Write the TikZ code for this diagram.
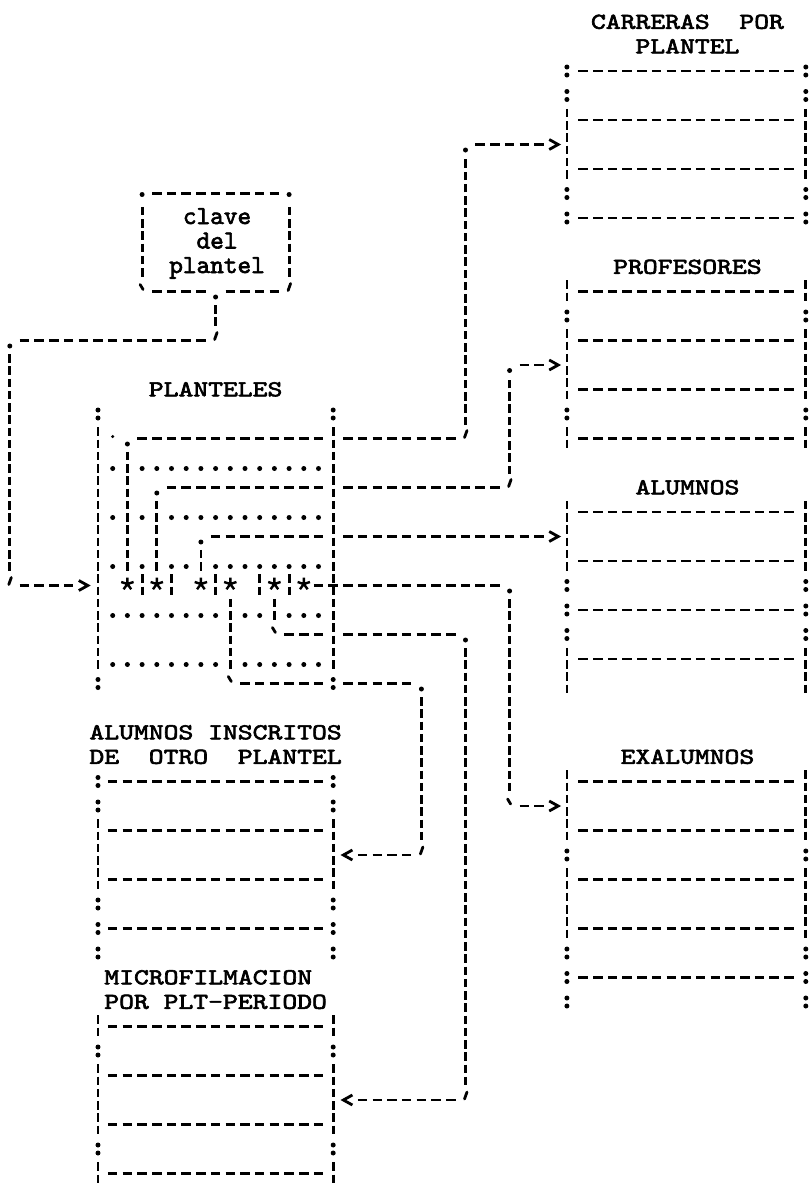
\documentclass[tikz,border=0pt]{standalone}
\usepackage{graphicx}
\usepackage{fontspec}
\newfontfamily\Amono{lmmono10-regular.otf}[FakeBold=2.4]
\newcommand\Alab[1]{\scalebox{1.24}[1]{\fontsize{22.8}{24}\selectfont\Amono #1}}
\newcommand\Aclv[1]{\scalebox{1.0}[1]{\fontsize{26}{26}\selectfont\Amono #1}}
\tikzset{
 hdl/.style={line width=2.8pt, dash pattern=on 9.5pt off 5.2pt},
 vdl/.style={line width=2.8pt, dash pattern=on 8.5pt off 3.75pt},
 hconn/.style={hdl, shorten <=9.95pt, shorten >=9.95pt},
 vconn/.style={vdl, shorten <=13.5pt, shorten >=13.5pt},
 mk/.style={line width=2.8pt, line cap=round},
 lab/.style={inner sep=0pt, anchor=base, yshift=-6.8pt},
 clv/.style={inner sep=0pt, anchor=base, yshift=-6pt},
}
\newcommand\Ahd[3]{\draw[hdl] ({#2-0.323},#1) -- ({#3+0.323},#1);}
\newcommand\Avd[3]{\draw[vdl] (#1,{#2-0.45}) -- (#1,{#3+0.45});}
\newcommand\Acol[2]{\fill (#1,#2) ++(0pt,4pt) circle (2.5pt) (#1,#2) ++(0pt,-4pt) circle (2.5pt);}
\newcommand\Adot[2]{\fill (#1,#2) ++(0pt,-5.5pt) circle (2.5pt);}
\newcommand\Acor[2]{\fill (#1,#2) ++(0pt,-1pt) circle (2.5pt);}
\newcommand\Atick[2]{\draw[mk] (#1,#2) ++(1.5pt,8pt) -- ++(-2.5pt,-7pt);}
\newcommand\Abtick[2]{\draw[mk] (#1,#2) ++(-2pt,7pt) -- ++(3pt,-5pt);}
\newcommand\Agt[2]{\draw[line width=2.8pt,line join=miter] (#1,#2) ++(-4.5pt,5pt) -- ++(9pt,-5pt) -- ++(-9pt,-5pt);}
\newcommand\Alt[2]{\draw[line width=2.8pt,line join=miter] (#1,#2) ++(4.5pt,5pt) -- ++(-9pt,-5pt) -- ++(9pt,-5pt);}
\newcommand\Astar[2]{\draw[line width=2.4pt, shift={(#1,#2)}] (0pt,1.5pt) -- ++(90:6.5pt) (0pt,1.5pt) -- ++(18:6.5pt) (0pt,1.5pt) -- ++(-54:6.5pt) (0pt,1.5pt) -- ++(-126:6.5pt) (0pt,1.5pt) -- ++(162:6.5pt);}
\begin{document}
\begin{tikzpicture}[x=14.7pt,y=-24.5pt]
\fill[white] (-98pt,22pt) rectangle (712pt,-1173pt);
\path[use as bounding box] (-98pt,22pt) rectangle (712pt,-1173pt);
% ---------- clave del plantel
\Acor{3}{7} \Ahd{7}{4}{12} \Acor{13}{7}
\Avd{3}{8}{10} \Avd{13}{8}{10}
\Abtick{3}{11} \Ahd{11}{4}{7} \Adot{8}{11} \Ahd{11}{9}{12} \Atick{13}{11}
\node[clv] (cv1) at (8.1,8) {\Aclv{clave}};
\node[clv] (cv2) at (8.1,9) {\Aclv{del}};
\node[clv] (cv3) at (8.1,10) {\Aclv{plantel}};
% connector clave -> PLANTELES
\coordinate (kv) at (8,11);
\coordinate (kv2) at (8,13);
\coordinate (kl) at (-6,13);
\coordinate (kl2) at (-6,23);
\coordinate (kar) at (-1,23);
\draw[vconn] (kv) -- (kv2);
\Atick{8}{13}
\draw[hconn] (kl) -- (kv2);
\Adot{-6}{13}
\draw[vconn] (kl) -- (kl2);
\Atick{-6}{23}
\draw[hconn] (kl2) -- (kar);
\Agt{-1}{23}
% ---------- PLANTELES
\node[lab] (tpl) at (8,15) {\Alab{PLANTELES}};
\Acol{0}{16} \Acol{16}{16} \Acol{0}{27} \Acol{16}{27}
\Avd{0}{17}{26} \Avd{16}{17}{26}
\draw[line width=2.8pt] (16,23) ++(-5pt,0pt) -- ++(10pt,0pt);
\fill (1,17) ++(0pt,2pt) circle (1.7pt);
\Adot{2}{17} \Ahd{17}{3}{15}
\Avd{2}{18}{22} \Astar{2}{23}
\foreach \c in {1,3,4,...,15} {\Adot{\c}{18}}
\Adot{4}{19} \Ahd{19}{5}{15}
\Avd{4}{20}{22} \Astar{4}{23}
\foreach \c in {1,3,5,6,...,15} {\Adot{\c}{20}}
\Adot{7}{21} \Ahd{21}{8}{15}
\Avd{7}{22}{22} \Astar{7}{23}
\foreach \c in {1,3,5,6,8,9,...,15} {\Adot{\c}{22}}
\foreach \c in {3,5,8,11,13} {\Avd{\c}{23}{23}}
\Astar{9}{23} \Astar{12}{23} \Astar{14}{23}
\Ahd{23}{15}{15}
\foreach \c in {1,...,8,10,11,13,14,15} {\Adot{\c}{24}}
\Avd{9}{24}{26} \Abtick{9}{27} \Ahd{27}{10}{15}
\Avd{12}{24}{24} \Abtick{12}{25} \Ahd{25}{13}{15}
\foreach \c in {1,...,8,10,11,...,15} {\Adot{\c}{26}}
% ---------- connectors from PLANTELES
\coordinate (pe17) at (16,17); \coordinate (k1) at (25,17); \coordinate (k1t) at (25,5); \coordinate (a1) at (31,5);
\draw[hconn] (pe17) -- (k1); \Atick{25}{17}
\draw[vconn] (k1) -- (k1t); \Adot{25}{5}
\draw[hconn] (k1t) -- (a1); \Agt{31}{5}
\coordinate (pe19) at (16,19); \coordinate (k2) at (28,19); \coordinate (k2t) at (28,14); \coordinate (a2) at (31,14);
\draw[hconn] (pe19) -- (k2); \Atick{28}{19}
\draw[vconn] (k2) -- (k2t); \Adot{28}{14}
\draw[hconn] (k2t) -- (a2); \Agt{31}{14}
\coordinate (pe21) at (16,21); \coordinate (a3) at (31,21);
\draw[hconn] (pe21) -- (a3); \Agt{31}{21}
\coordinate (pe23) at (16,23); \coordinate (k4) at (28,23); \coordinate (k4b) at (28,32); \coordinate (a4) at (31,32);
\draw[hconn] (pe23) -- (k4); \Adot{28}{23}
\draw[vconn] (k4) -- (k4b); \Abtick{28}{32}
\draw[hconn] (k4b) -- (a4); \Agt{31}{32}
\coordinate (pe25) at (16,25); \coordinate (k6) at (25,25); \coordinate (k6b) at (25,44); \coordinate (a6) at (17,44);
\draw[hconn] (pe25) -- (k6); \Adot{25}{25}
\draw[vconn] (k6) -- (k6b); \Atick{25}{44}
\draw[hconn] (a6) -- (k6b); \Alt{17}{44}
\coordinate (pe27) at (16,27); \coordinate (k5) at (22,27); \coordinate (k5b) at (22,34); \coordinate (a5) at (17,34);
\draw[hconn] (pe27) -- (k5); \Adot{22}{27}
\draw[vconn] (k5) -- (k5b); \Atick{22}{34}
\draw[hconn] (a5) -- (k5b); \Alt{17}{34}
% ---------- right boxes
\def\L{31.9} \def\R{48.15}
\node[lab] (tc1) at (40.1,0) {\Alab{CARRERAS\ \ POR}};
\node[lab] (tc2) at (40.1,1) {\Alab{PLANTEL}};
\foreach \s in {\L,\R} {\Acol{\s}{2} \Acol{\s}{3} \Avd{\s}{4}{6} \Acol{\s}{7} \Acol{\s}{8}}
\foreach \r in {2,4,6,8} {\Ahd{\r}{33}{47}}
\node[lab] (tpr) at (40.1,10) {\Alab{PROFESORES}};
\foreach \s in {\L,\R} {\Avd{\s}{11}{11} \Acol{\s}{12} \Avd{\s}{13}{15} \Acol{\s}{16} \Avd{\s}{17}{17}}
\foreach \r in {11,13,15,17} {\Ahd{\r}{33}{47}}
\node[lab] (tal) at (40.1,19) {\Alab{ALUMNOS}};
\foreach \s in {\L,\R} {\Avd{\s}{20}{22} \Acol{\s}{23} \Acol{\s}{24} \Acol{\s}{25} \Avd{\s}{26}{27}}
\foreach \r in {20,22,24,26} {\Ahd{\r}{33}{47}}
\node[lab] (tex) at (40.1,30) {\Alab{EXALUMNOS}};
\foreach \s in {\L,\R} {\Avd{\s}{31}{33} \Acol{\s}{34} \Avd{\s}{35}{37} \Acol{\s}{38} \Acol{\s}{39} \Acol{\s}{40}}
\foreach \r in {31,33,35,37,39} {\Ahd{\r}{33}{47}}
% ---------- lower left boxes
\node[lab] (tai1) at (8,29) {\Alab{ALUMNOS INSCRITOS}};
\node[lab] (tai2) at (8,30) {\Alab{DE\ \ OTRO\ \ PLANTEL}};
\foreach \s in {0,16} {\Acol{\s}{31} \Acol{\s}{32} \Avd{\s}{33}{35} \Acol{\s}{36} \Acol{\s}{37} \Acol{\s}{38}}
\foreach \r in {31,33,35,37} {\Ahd{\r}{1}{15}}
\node[lab] (tmi1) at (7.5,39) {\Alab{MICROFILMACION}};
\node[lab] (tmi2) at (8,40) {\Alab{POR PLT-PERIODO}};
\foreach \s in {0,16} {\Avd{\s}{41}{41} \Acol{\s}{42} \Avd{\s}{43}{45} \Acol{\s}{46} \Avd{\s}{47}{47}}
\foreach \r in {41,43,45,47} {\Ahd{\r}{1}{15}}
\end{tikzpicture}
\end{document}
